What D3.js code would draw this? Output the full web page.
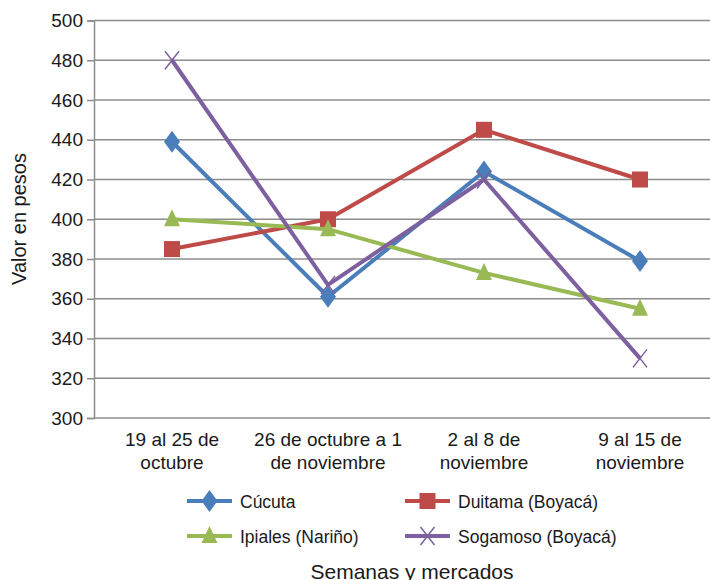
<!DOCTYPE html>
<html>
<head>
<meta charset="utf-8">
<script src="https://cdn.jsdelivr.net/npm/d3@7"></script>
<style>
  body { margin: 0; background: #fff; }
  text { font-family: "Liberation Sans", Arial, sans-serif; fill: #1a1a1a; }
</style>
</head>
<body>
<div id="chart"></div>
<script>
// categories (weeks) and series values
const weeks = [
  ["19 al 25 de", "octubre"],
  ["26 de octubre a 1", "de noviembre"],
  ["2 al 8 de", "noviembre"],
  ["9 al 15 de", "noviembre"]
];
const cucuta   = [439, 361, 424, 379];
const duitama  = [385, 400, 445, 420];
const ipiales  = [400, 395, 373, 355];
const sogamoso = [480, 367, 420, 330];
const yTicks = [300, 320, 340, 360, 380, 400, 420, 440, 460, 480, 500];

const series = [
  {name: "Cúcuta", values: cucuta, color: "#4a7ebb", marker: "diamond"},
  {name: "Duitama (Boyacá)", values: duitama, color: "#be4b48", marker: "square"},
  {name: "Ipiales (Nariño)", values: ipiales, color: "#98b954", marker: "triangle"},
  {name: "Sogamoso (Boyacá)", values: sogamoso, color: "#7d60a0", marker: "x"}
];

const width = 710, height = 580;
const margin = {top: 20.5, left: 94};
const plotW = 624, plotH = 397.5;

const svg = d3.select('#chart').append('svg')
  .attr('width', width).attr('height', height);

const g = svg.append('g').attr('transform', `translate(${margin.left},${margin.top})`);

const x = d3.scaleBand().domain(d3.range(weeks.length)).range([0, plotW]);
const y = d3.scaleLinear().domain([300, 500]).range([plotH, 0]);

// gridlines
g.selectAll('.grid').data(yTicks).join('line')
  .attr('x1', 0).attr('x2', plotW)
  .attr('y1', d => y(d)).attr('y2', d => y(d))
  .attr('stroke', '#8c8c8c').attr('stroke-width', 1.5);

// y axis
const yAxis = g.append('g').call(d3.axisLeft(y).tickValues(yTicks).tickSize(7).tickPadding(4))
  .attr('font-size', 19).attr('font-family', '"Liberation Sans", Arial, sans-serif');
yAxis.select('.domain').attr('stroke', '#8c8c8c').attr('stroke-width', 1.5);
yAxis.selectAll('.tick line').attr('stroke', '#8c8c8c').attr('stroke-width', 1.5);
yAxis.selectAll('.tick text').attr('fill', '#1a1a1a').style('font-size', '19px');

// x category labels
const xl = g.selectAll('.xlab').data(weeks).join('text')
  .attr('text-anchor', 'middle')
  .attr('transform', (d, i) => `translate(${x(i) + x.bandwidth() / 2},${plotH + 28})`)
  .style('font-size', '19px');
xl.selectAll('tspan').data(d => d).join('tspan')
  .attr('x', 0).attr('dy', (d, i) => i === 0 ? 0 : 23).text(d => d);

const cx = i => x(i) + x.bandwidth() / 2;

function drawMarker(sel, type, color) {
  if (type === 'diamond') {
    sel.append('path').attr('d', 'M0,-11L8,0L0,11L-8,0Z').attr('fill', color);
  } else if (type === 'square') {
    sel.append('rect').attr('x', -8).attr('y', -8).attr('width', 16).attr('height', 16).attr('fill', color);
  } else if (type === 'triangle') {
    sel.append('path').attr('d', 'M0,-10L8,7L-8,7Z').attr('fill', color);
  } else {
    sel.append('path').attr('d', 'M-7,-9L7,9M-7,9L7,-9').attr('stroke', color).attr('stroke-width', 1.5).attr('fill', 'none');
  }
}

const line = d3.line().x((d, i) => cx(i)).y(d => y(d));

series.forEach(s => {
  g.append('path').datum(s.values)
    .attr('fill', 'none').attr('stroke', s.color).attr('stroke-width', 4)
    .attr('stroke-linejoin', 'round').attr('d', line);
  s.values.forEach((v, i) => {
    const m = g.append('g').attr('transform', `translate(${cx(i)},${y(v)})`);
    drawMarker(m, s.marker, s.color);
  });
});

// legend
const legPos = [[187, 501], [405, 501], [187, 536], [405, 536]];
series.forEach((s, i) => {
  const lg = svg.append('g').attr('transform', `translate(${legPos[i][0]},${legPos[i][1]})`);
  lg.append('line').attr('x1', 0).attr('x2', 45).attr('y1', 0).attr('y2', 0)
    .attr('stroke', s.color).attr('stroke-width', 4);
  const m = lg.append('g').attr('transform', 'translate(22.5,0)');
  drawMarker(m, s.marker, s.color);
  lg.append('text').attr('x', 53).attr('y', 6.5).style('font-size', '17.5px').text(s.name);
});

// axis titles
svg.append('text').attr('x', 412).attr('y', 579).attr('text-anchor', 'middle')
  .style('font-size', '21px').text('Semanas y mercados');
svg.append('text').attr('transform', 'translate(26,219) rotate(-90)').attr('text-anchor', 'middle')
  .style('font-size', '20px').text('Valor en pesos');
</script>
</body>
</html>
